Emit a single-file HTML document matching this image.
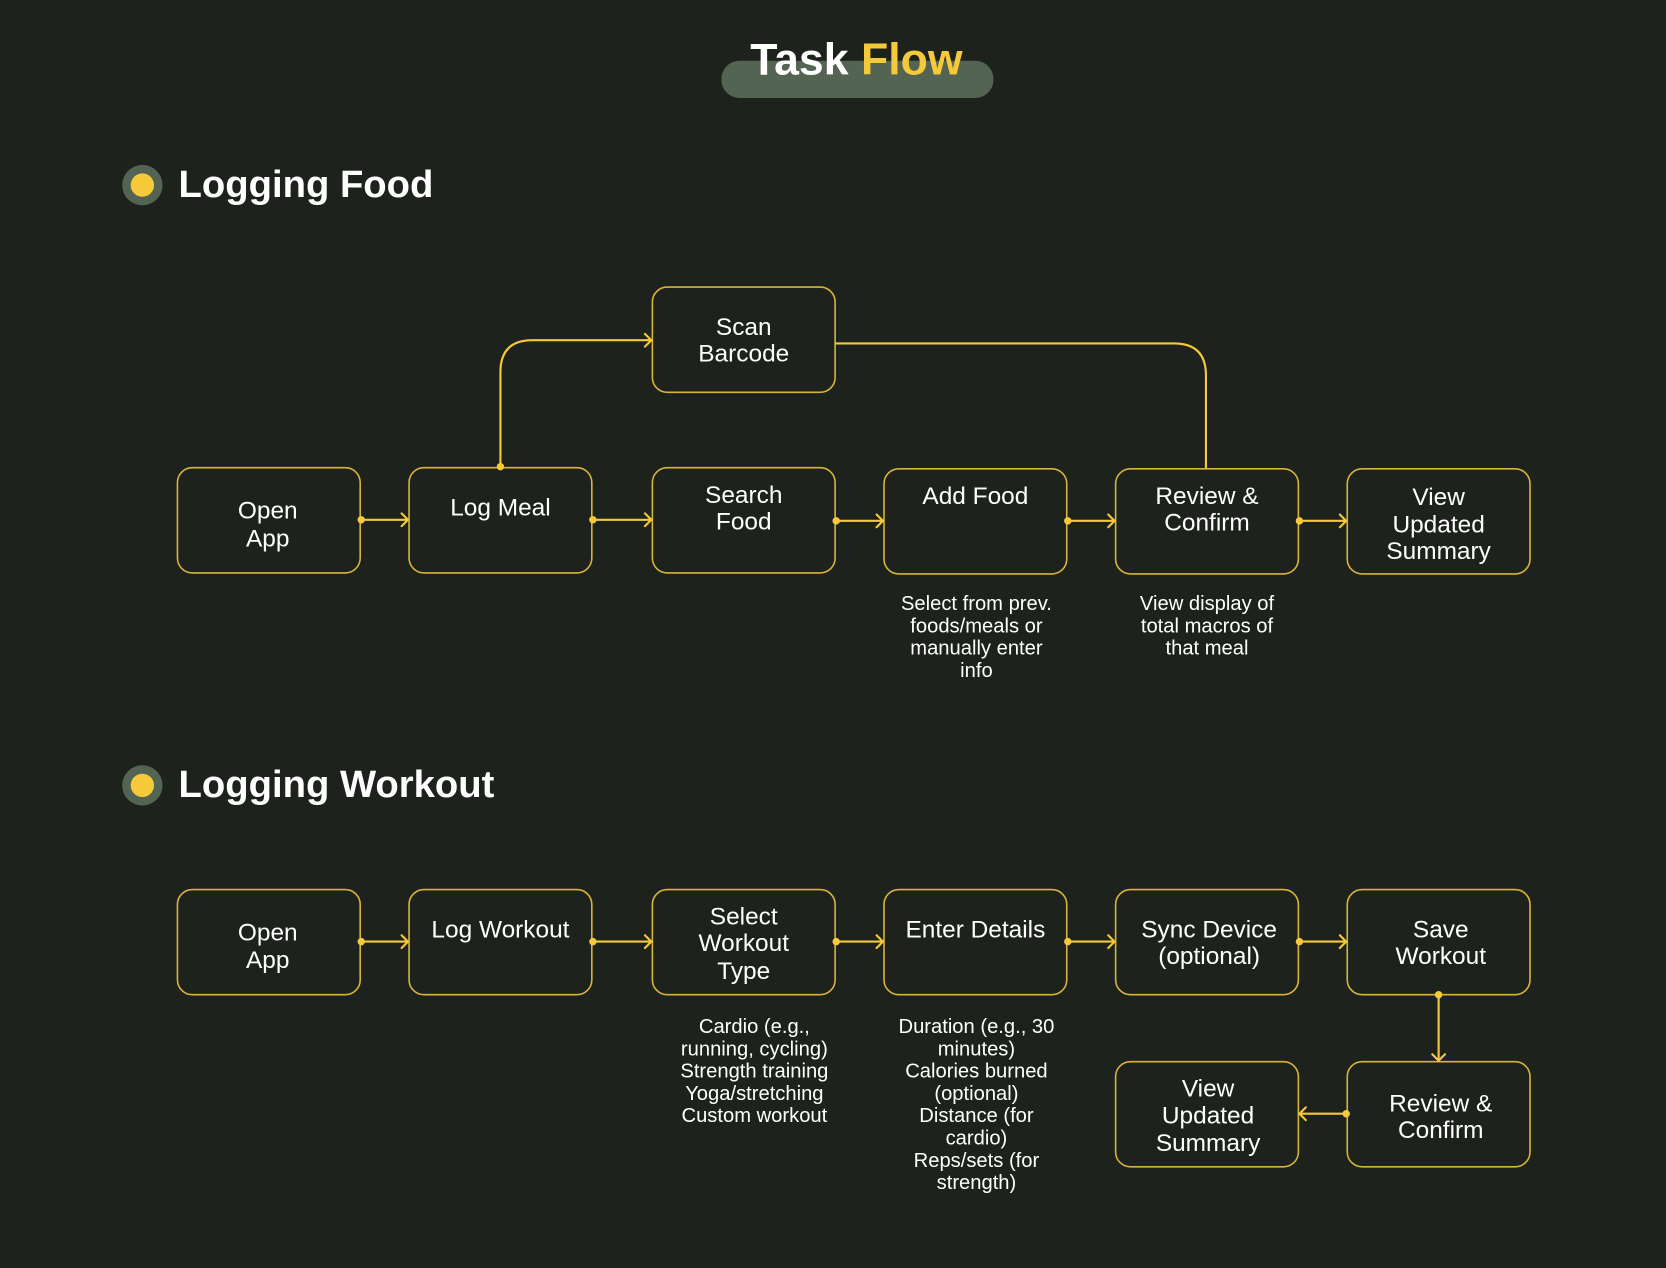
<!DOCTYPE html>
<html><head><meta charset="utf-8"><style>
html,body{margin:0;padding:0;background:#1e221d;}
svg{display:block}
text{font-family:"Liberation Sans",sans-serif;fill:#fff}
.n{font-size:23px;text-anchor:middle}
.a{font-size:19px;text-anchor:middle}
</style></head><body>
<svg width="1666" height="1268" viewBox="0 0 1568 1193" xmlns="http://www.w3.org/2000/svg">
<rect width="1568" height="1193" fill="#1e221d"/>
<rect x="679" y="57" width="256" height="35" rx="17" fill="#536452"/>
<text x="806" y="70" font-size="42" font-weight="bold" text-anchor="middle"><tspan fill="#fff">Task </tspan><tspan fill="#f5c93a">Flow</tspan></text>
<circle cx="134" cy="174" r="19" fill="#536452"/><circle cx="134" cy="174" r="11" fill="#f5c93a"/>
<text x="168" y="185" font-size="36" font-weight="bold">Logging Food</text>
<circle cx="134" cy="739" r="19" fill="#536452"/><circle cx="134" cy="739" r="11" fill="#f5c93a"/>
<text x="168" y="750" font-size="36" font-weight="bold">Logging Workout</text>
<g fill="none" stroke="#d9b43a" stroke-width="1.5">
<rect x="167" y="440" width="172" height="99" rx="14"/>
<rect x="385" y="440" width="172" height="99" rx="14"/>
<rect x="614" y="440" width="172" height="99" rx="14"/>
<rect x="832" y="441" width="172" height="99" rx="14"/>
<rect x="1050" y="441" width="172" height="99" rx="14"/>
<rect x="1268" y="441" width="172" height="99" rx="14"/>
<rect x="614" y="270" width="172" height="99" rx="14"/>
<rect x="167" y="837" width="172" height="99" rx="14"/>
<rect x="385" y="837" width="172" height="99" rx="14"/>
<rect x="614" y="837" width="172" height="99" rx="14"/>
<rect x="832" y="837" width="172" height="99" rx="14"/>
<rect x="1050" y="837" width="172" height="99" rx="14"/>
<rect x="1268" y="837" width="172" height="99" rx="14"/>
<rect x="1050" y="999" width="172" height="99" rx="14"/>
<rect x="1268" y="999" width="172" height="99" rx="14"/>
</g>
<g fill="none" stroke="#f5c93a" stroke-width="2" stroke-linecap="round" stroke-linejoin="round">
<path d="M340 489H384M378 483l6 6-6 6"/>
<path d="M558 489H613M607 483l6 6-6 6"/>
<path d="M787 490H831M825 484l6 6-6 6"/>
<path d="M1005 490H1049M1043 484l6 6-6 6"/>
<path d="M1223 490H1267M1261 484l6 6-6 6"/>
<path d="M471 439V350Q471 320 501 320H613M607 314l6 6-6 6"/>
<path d="M787 323H1105Q1135 323 1135 353V440"/>
<path d="M340 886H384M378 880l6 6-6 6"/>
<path d="M558 886H613M607 880l6 6-6 6"/>
<path d="M787 886H831M825 880l6 6-6 6"/>
<path d="M1005 886H1049M1043 880l6 6-6 6"/>
<path d="M1223 886H1267M1261 880l6 6-6 6"/>
<path d="M1354 937V998M1348 992l6 6 6-6"/>
<path d="M1267 1048H1223M1229 1042l-6 6 6 6"/>
</g>
<g fill="#f5c93a">
<circle cx="340" cy="489" r="3.5"/><circle cx="558" cy="489" r="3.5"/><circle cx="787" cy="490" r="3.5"/><circle cx="1005" cy="490" r="3.5"/><circle cx="1223" cy="490" r="3.5"/><circle cx="471" cy="439" r="3.5"/>
<circle cx="340" cy="886" r="3.5"/><circle cx="558" cy="886" r="3.5"/><circle cx="787" cy="886" r="3.5"/><circle cx="1005" cy="886" r="3.5"/><circle cx="1223" cy="886" r="3.5"/><circle cx="1354" cy="936" r="3.5"/><circle cx="1267" cy="1048" r="3.5"/>
</g>
<text class="n" x="252" y="488">Open</text><text class="n" x="252" y="514">App</text>
<text class="n" x="471" y="485">Log Meal</text>
<text class="n" x="700" y="473">Search</text><text class="n" x="700" y="498">Food</text>
<text class="n" x="918" y="474">Add Food</text>
<text class="n" x="1136" y="474">Review &amp;</text><text class="n" x="1136" y="499">Confirm</text>
<text class="n" x="1354" y="475">View</text><text class="n" x="1354" y="501">Updated</text><text class="n" x="1354" y="526">Summary</text>
<text class="n" x="700" y="315">Scan</text><text class="n" x="700" y="340">Barcode</text>
<text class="a" x="919" y="574">Select from prev.</text><text class="a" x="919" y="595">foods/meals or</text><text class="a" x="919" y="616">manually enter</text><text class="a" x="919" y="637">info</text>
<text class="a" x="1136" y="574">View display of</text><text class="a" x="1136" y="595">total macros of</text><text class="a" x="1136" y="616">that meal</text>
<text class="n" x="252" y="885">Open</text><text class="n" x="252" y="911">App</text>
<text class="n" x="471" y="882">Log Workout</text>
<text class="n" x="700" y="870">Select</text><text class="n" x="700" y="895">Workout</text><text class="n" x="700" y="921">Type</text>
<text class="n" x="918" y="882">Enter Details</text>
<text class="n" x="1138" y="882">Sync Device</text><text class="n" x="1138" y="907">(optional)</text>
<text class="n" x="1356" y="882">Save</text><text class="n" x="1356" y="907">Workout</text>
<text class="n" x="1137" y="1032">View</text><text class="n" x="1137" y="1057">Updated</text><text class="n" x="1137" y="1083">Summary</text>
<text class="n" x="1356" y="1046">Review &amp;</text><text class="n" x="1356" y="1071">Confirm</text>
<text class="a" x="710" y="972">Cardio (e.g.,</text><text class="a" x="710" y="993">running, cycling)</text><text class="a" x="710" y="1014">Strength training</text><text class="a" x="710" y="1035">Yoga/stretching</text><text class="a" x="710" y="1056">Custom workout</text>
<text class="a" x="919" y="972">Duration (e.g., 30</text><text class="a" x="919" y="993">minutes)</text><text class="a" x="919" y="1014">Calories burned</text><text class="a" x="919" y="1035">(optional)</text><text class="a" x="919" y="1056">Distance (for</text><text class="a" x="919" y="1077">cardio)</text><text class="a" x="919" y="1098">Reps/sets (for</text><text class="a" x="919" y="1119">strength)</text>
</svg>
</body></html>
